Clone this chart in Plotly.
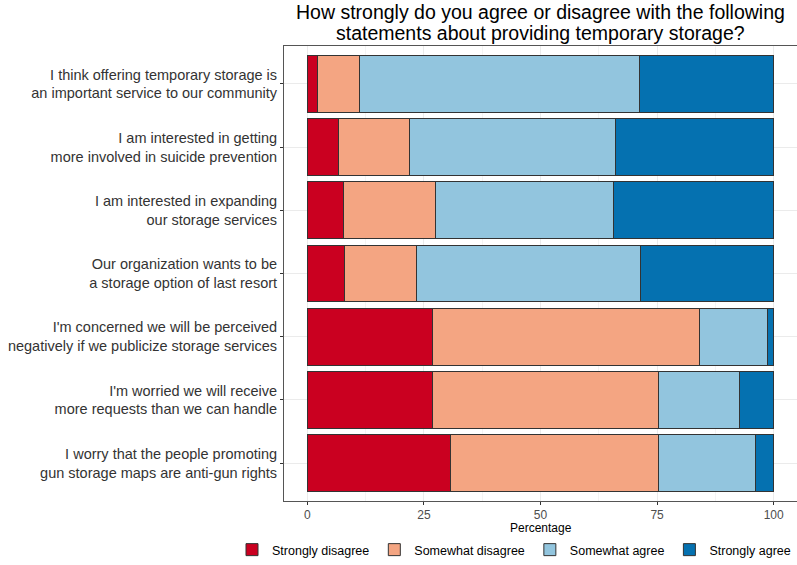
import plotly.graph_objects as go

statements = [
    "I think offering temporary storage is<br>an important service to our community",
    "I am interested in getting<br>more involved in suicide prevention",
    "I am interested in expanding<br>our storage services",
    "Our organization wants to be<br>a storage option of last resort",
    "I'm concerned we will be perceived<br>negatively if we publicize storage services",
    "I'm worried we will receive<br>more requests than we can handle",
    "I worry that the people promoting<br>gun storage maps are anti-gun rights",
]

strongly_disagree = [2.1, 6.6, 7.7, 7.9, 26.8, 26.9, 30.7]
somewhat_disagree = [9.1, 15.3, 19.7, 15.6, 57.2, 48.3, 44.5]
somewhat_agree = [60.0, 44.2, 38.2, 48.0, 14.6, 17.4, 21.0]
strongly_agree = [28.8, 33.9, 34.4, 28.5, 1.4, 7.4, 3.8]

responses = ["Strongly disagree", "Somewhat disagree", "Somewhat agree", "Strongly agree"]
colors = ["#CA0020", "#F4A582", "#92C5DE", "#0571B0"]
values = [strongly_disagree, somewhat_disagree, somewhat_agree, strongly_agree]

title_lines = [
    "How strongly do you agree or disagree with the following",
    "statements about providing temporary storage?",
]

W, H = 797, 565
M_LEFT, M_TOP, M_BOT = 284, 46, 64
plot_w = W - M_LEFT
plot_h = H - M_TOP - M_BOT


def py(pix):
    # pixel row -> paper y
    return 1 + (M_TOP - pix) / plot_h


fig = go.Figure()
for name, col, vals in zip(responses, colors, values):
    fig.add_trace(go.Bar(
        x=vals, y=statements, name=name, orientation="h",
        marker=dict(color=col, line=dict(color="#333333", width=1)),
    ))

# two-line title, placed line by line to get ggplot-like spacing
for i, line in enumerate(title_lines):
    fig.add_annotation(
        text=line, xref="paper", x=0.5, xanchor="center",
        yref="paper", y=py(12 + 21 * i), yanchor="middle",
        showarrow=False, font=dict(size=19.5, color="black"),
    )

fig.add_annotation(
    text="Percentage", xref="paper", x=0.5, xanchor="center",
    yref="paper", y=py(528), yanchor="middle",
    showarrow=False, font=dict(size=12, color="black"),
)

fig.update_layout(
    barmode="stack",
    bargap=0.1,
    width=W, height=H,
    margin=dict(l=M_LEFT, r=0, t=M_TOP, b=M_BOT, autoexpand=False),
    paper_bgcolor="white",
    plot_bgcolor="white",
    font=dict(family="Liberation Sans, Arial, sans-serif", color="black"),
    legend=dict(
        orientation="h", xref="paper", yref="paper",
        x=(232 - M_LEFT) / plot_w, xanchor="left", y=py(550), yanchor="middle",
        font=dict(size=12.5, color="black"), traceorder="normal",
    ),
)

fig.update_xaxes(
    range=[-5, 105],
    tickvals=[0, 25, 50, 75, 100],
    ticktext=["0", "25", "50", "75", "100"],
    ticks="outside", ticklen=3, tickcolor="#333333",
    tickfont=dict(size=12, color="#4d4d4d"),
    showgrid=True, gridcolor="#ebebeb", gridwidth=1,
    minor=dict(tickvals=[12.5, 37.5, 62.5, 87.5], showgrid=True, gridcolor="#f4f4f4", gridwidth=0.5),
    zeroline=False,
    showline=True, linecolor="#555555", linewidth=1, mirror=True,
)
fig.update_yaxes(
    categoryorder="array", categoryarray=statements,
    range=[6.6, -0.6],
    ticks="outside", ticklen=3, tickcolor="#333333",
    tickfont=dict(size=14.5, color="#333333"),
    showgrid=True, gridcolor="#ebebeb", gridwidth=1,
    zeroline=False,
    showline=True, linecolor="#555555", linewidth=1, mirror=True,
)

# drop the default page margin so the figure sits at the window's top-left corner
fig.write_html("out.html", config={"displayModeBar": False},
               post_script="document.body.style.margin='0';")
